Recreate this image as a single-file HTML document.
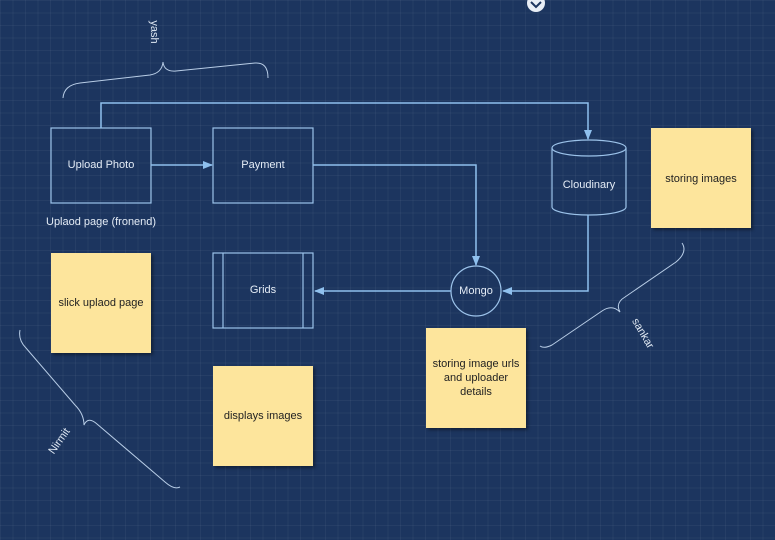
<!DOCTYPE html>
<html><head><style>
html,body{margin:0;padding:0}
body{width:775px;height:540px;overflow:hidden;background:#1c355f;
background-image:linear-gradient(rgba(255,255,255,0.045) 1px,transparent 1px),linear-gradient(90deg,rgba(255,255,255,0.045) 1px,transparent 1px);
background-size:12.5px 12.5px;font-family:"Liberation Sans",sans-serif;position:relative}
.t{position:absolute;color:#e4ecf6;font-size:11px;text-align:center}
.n{position:absolute;background:#fde59c;color:#222;font-size:11px;display:flex;align-items:center;justify-content:center;text-align:center;box-shadow:2px 2px 3px rgba(0,0,0,.4);line-height:14px}
</style></head><body>
<svg width="775" height="540" style="position:absolute;left:0;top:0">
<defs><marker id="a" markerWidth="10" markerHeight="8" refX="9" refY="4" orient="auto" markerUnits="userSpaceOnUse"><path d="M0,0 L10,4 L0,8z" fill="#8fc0ee"/></marker></defs>
<g fill="none" stroke="#9cc3ea" stroke-width="1.2">
<rect x="51" y="128" width="100" height="75"/>
<rect x="213" y="128" width="100" height="75"/>
<rect x="213" y="253" width="100" height="75"/>
<line x1="223" y1="253" x2="223" y2="328"/><line x1="303" y1="253" x2="303" y2="328"/>
<circle cx="476" cy="291" r="25"/>
<path d="M552,148 L552,207 A37,8 0 0 0 626,207 L626,148"/>
<ellipse cx="589" cy="148" rx="37" ry="8"/>
</g>
<g fill="none" stroke="#8fc0ee" stroke-width="1.5">
<path d="M151,165 L212,165" marker-end="url(#a)"/>
<path d="M101,128 L101,103 L588,103 L588,139" marker-end="url(#a)"/>
<path d="M313,165 L476,165 L476,265" marker-end="url(#a)"/>
<path d="M588,215 L588,291 L503,291" marker-end="url(#a)"/>
<path d="M451,291 L315,291" marker-end="url(#a)"/>
</g>
<g fill="none" stroke="#b8cde6" stroke-width="1">
<path d="M63,98 Q64,85 80,83 L150,75 Q162,73 163,62 Q164,72 176,71 L255,63 Q268,62 268,78"/>
<path d="M682,243 Q688,252 676,262 L625,297 Q615,303 620,312 Q612,304 602,311 L552,345 Q544,349 540,346"/>
<path d="M20,330 Q18,340 26,348 L75,405 Q84,414 84,425 Q88,416 97,424 L165,482 Q174,490 180,487"/>
</g>
<circle cx="536" cy="3" r="9" fill="#e8eef6"/>
<path d="M531,2 L536,7 L541,2" stroke="#1c355f" stroke-width="2" fill="none"/>
<text x="155" y="32" fill="#dfe8f3" font-size="11" font-family="Liberation Sans" transform="rotate(90 155 32)" text-anchor="middle" dy="4">yash</text>
<text x="640" y="335" fill="#dfe8f3" font-size="11" font-family="Liberation Sans" transform="rotate(60 640 335)" text-anchor="middle">sankar</text>
<text x="62" y="443" fill="#dfe8f3" font-size="11" font-family="Liberation Sans" transform="rotate(-55 62 443)" text-anchor="middle">Nirmit</text>
</svg>
<div class="t" style="left:51px;top:159px;width:100px">Upload Photo</div>
<div class="t" style="left:213px;top:159px;width:100px">Payment</div>
<div class="t" style="left:213px;top:284px;width:100px">Grids</div>
<div class="t" style="left:451px;top:285px;width:50px">Mongo</div>
<div class="t" style="left:552px;top:179px;width:74px">Cloudinary</div>
<div class="t" style="left:46px;top:216px;text-align:left">Uplaod page (fronend)</div>
<div class="n" style="left:651px;top:128px;width:100px;height:100px;align-items:flex-start;padding-top:0"><span style="margin-top:44px">storing images</span></div>
<div class="n" style="left:51px;top:253px;width:100px;height:100px">slick uplaod page</div>
<div class="n" style="left:426px;top:328px;width:100px;height:100px">storing image urls<br>and uploader<br>details</div>
<div class="n" style="left:213px;top:366px;width:100px;height:100px">displays images</div>
</body></html>
